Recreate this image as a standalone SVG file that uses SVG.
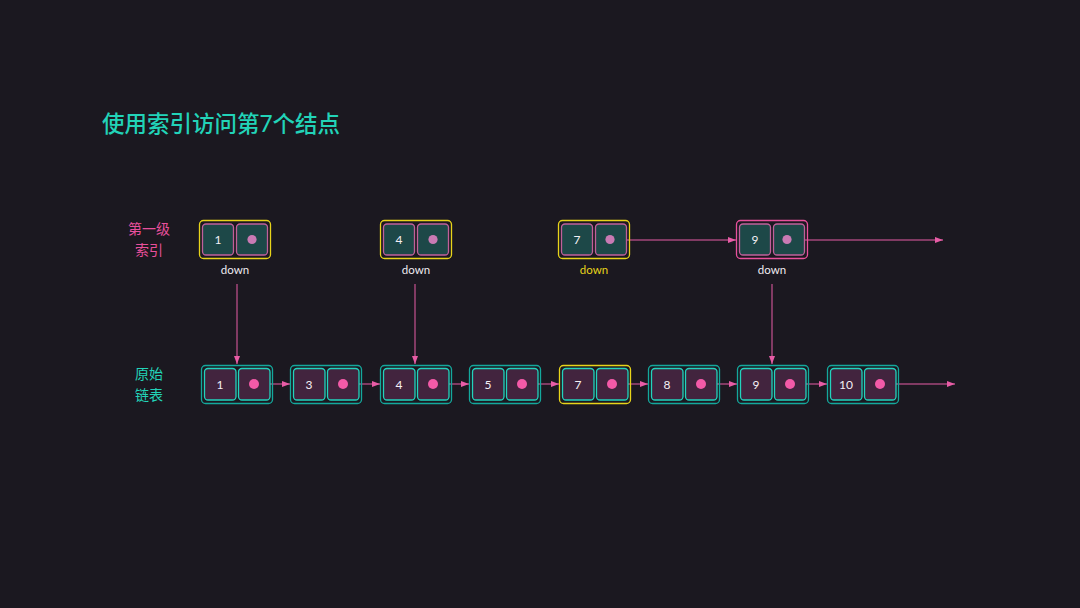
<svg xmlns="http://www.w3.org/2000/svg" width="1080" height="608" viewBox="0 0 1080 608">
<defs>
<marker id="ah" viewBox="0 0 8 6" refX="8" refY="3" markerWidth="8" markerHeight="6" markerUnits="userSpaceOnUse" orient="auto">
<path d="M0,0 L8,3 L0,6 Z" fill="#e85ca6"/>
</marker>
<style>
.t{font-family:"Lato","Noto Sans CJK SC",sans-serif;}
.num{font-size:12px;fill:#f4f0f4;text-anchor:middle;}
.dn{font-size:11.5px;fill:#f0ecf0;text-anchor:middle;}
.tc{fill:#1d4848;stroke:#c0609a;stroke-width:1.3;}
.bc{fill:#42243e;stroke:#22d3bd;stroke-width:1.3;}
.to{fill:none;stroke:#e8d41a;stroke-width:1.3;}
.tp{fill:none;stroke:#e8509c;stroke-width:1.3;}
.bo{fill:none;stroke:#14a89c;stroke-width:1.3;}
.td{fill:#c97ab4;}
.bd{fill:#f35aa8;}
.ln{stroke:#e85ca6;stroke-width:1;fill:none;marker-end:url(#ah);}
.lab{font-size:14px;text-anchor:middle;}
</style>
</defs>
<rect width="1080" height="608" fill="#1b1820"/>
<text class="t" x="102" y="132" font-size="22.5" font-weight="500" fill="#22d3b8">使用索引访问第7个结点</text>
<g id="label-level1" class="t lab" fill="#e8509c">
<text x="149" y="234">第一级</text>
<text x="149" y="255">索引</text>
</g>
<g id="label-orig" class="t lab" fill="#22d3b8">
<text x="149" y="379">原始</text>
<text x="149" y="400">链表</text>
</g>

<g id="connectors">
<line class="ln" x1="610" y1="240" x2="736" y2="240"/>
<line class="ln" x1="787" y1="240" x2="943" y2="240"/>
<line class="ln" x1="237" y1="284" x2="237" y2="364"/>
<line class="ln" x1="415" y1="284" x2="415" y2="364"/>
<line class="ln" x1="772" y1="284" x2="772" y2="364"/>
<line class="ln" x1="254" y1="384" x2="290" y2="384"/>
<line class="ln" x1="343" y1="384" x2="380" y2="384"/>
<line class="ln" x1="433" y1="384" x2="469" y2="384"/>
<line class="ln" x1="522" y1="384" x2="559" y2="384"/>
<line class="ln" x1="612" y1="384" x2="648" y2="384"/>
<line class="ln" x1="701" y1="384" x2="737" y2="384"/>
<line class="ln" x1="790" y1="384" x2="827" y2="384"/>
<line class="ln" x1="880" y1="384" x2="955" y2="384"/>
</g>

<g id="top1">
<rect class="to" x="199.5" y="220.5" width="71" height="38" rx="4"/>
<rect class="tc" x="202.5" y="224" width="31" height="31" rx="3.5"/>
<rect class="tc" x="236.5" y="224" width="31" height="31" rx="3.5"/>
<text class="t num" x="218" y="244">1</text>
<circle class="td" cx="252" cy="239.5" r="4.6"/>
<text class="t dn" x="235" y="274">down</text>
</g>
<g id="top4">
<rect class="to" x="380.5" y="220.5" width="71" height="38" rx="4"/>
<rect class="tc" x="383.5" y="224" width="31" height="31" rx="3.5"/>
<rect class="tc" x="417.5" y="224" width="31" height="31" rx="3.5"/>
<text class="t num" x="399" y="244">4</text>
<circle class="td" cx="433" cy="239.5" r="4.6"/>
<text class="t dn" x="416" y="274">down</text>
</g>
<g id="top7">
<rect class="to" x="558.5" y="220.5" width="71" height="38" rx="4"/>
<rect class="tc" x="561.5" y="224" width="31" height="31" rx="3.5"/>
<rect class="tc" x="595.5" y="224" width="31" height="31" rx="3.5"/>
<text class="t num" x="577" y="244">7</text>
<circle class="td" cx="610" cy="239.5" r="4.6"/>
<text class="t dn" x="594" y="274" style="fill:#e8d41a">down</text>
</g>
<g id="top9">
<rect class="tp" x="736.5" y="220.5" width="71" height="38" rx="4"/>
<rect class="tc" x="739.5" y="224" width="31" height="31" rx="3.5"/>
<rect class="tc" x="773.5" y="224" width="31" height="31" rx="3.5"/>
<text class="t num" x="755" y="244">9</text>
<circle class="td" cx="787" cy="239.5" r="4.6"/>
<text class="t dn" x="772" y="274">down</text>
</g>

<g id="n1">
<rect class="bo" x="201.5" y="365.5" width="71" height="38" rx="4"/>
<rect class="bc" x="204.5" y="368.5" width="31.5" height="31.5" rx="3.5"/>
<rect class="bc" x="238.5" y="368.5" width="31.5" height="31.5" rx="3.5"/>
<text class="t num" x="220" y="389">1</text>
<circle class="bd" cx="254" cy="384" r="5"/>
</g>
<g id="n3">
<rect class="bo" x="290.5" y="365.5" width="71" height="38" rx="4"/>
<rect class="bc" x="293.5" y="368.5" width="31.5" height="31.5" rx="3.5"/>
<rect class="bc" x="327.5" y="368.5" width="31.5" height="31.5" rx="3.5"/>
<text class="t num" x="309" y="389">3</text>
<circle class="bd" cx="343" cy="384" r="5"/>
</g>
<g id="n4">
<rect class="bo" x="380.5" y="365.5" width="71" height="38" rx="4"/>
<rect class="bc" x="383.5" y="368.5" width="31.5" height="31.5" rx="3.5"/>
<rect class="bc" x="417.5" y="368.5" width="31.5" height="31.5" rx="3.5"/>
<text class="t num" x="399" y="389">4</text>
<circle class="bd" cx="433" cy="384" r="5"/>
</g>
<g id="n5">
<rect class="bo" x="469.5" y="365.5" width="71" height="38" rx="4"/>
<rect class="bc" x="472.5" y="368.5" width="31.5" height="31.5" rx="3.5"/>
<rect class="bc" x="506.5" y="368.5" width="31.5" height="31.5" rx="3.5"/>
<text class="t num" x="488" y="389">5</text>
<circle class="bd" cx="522" cy="384" r="5"/>
</g>
<g id="n7">
<rect class="to" x="559.5" y="365.5" width="71" height="38" rx="4"/>
<rect class="bc" x="562.5" y="368.5" width="31.5" height="31.5" rx="3.5"/>
<rect class="bc" x="596.5" y="368.5" width="31.5" height="31.5" rx="3.5"/>
<text class="t num" x="578" y="389">7</text>
<circle class="bd" cx="612" cy="384" r="5"/>
</g>
<g id="n8">
<rect class="bo" x="648.5" y="365.5" width="71" height="38" rx="4"/>
<rect class="bc" x="651.5" y="368.5" width="31.5" height="31.5" rx="3.5"/>
<rect class="bc" x="685.5" y="368.5" width="31.5" height="31.5" rx="3.5"/>
<text class="t num" x="667" y="389">8</text>
<circle class="bd" cx="701" cy="384" r="5"/>
</g>
<g id="n9">
<rect class="bo" x="737.5" y="365.5" width="71" height="38" rx="4"/>
<rect class="bc" x="740.5" y="368.5" width="31.5" height="31.5" rx="3.5"/>
<rect class="bc" x="774.5" y="368.5" width="31.5" height="31.5" rx="3.5"/>
<text class="t num" x="756" y="389">9</text>
<circle class="bd" cx="790" cy="384" r="5"/>
</g>
<g id="n10">
<rect class="bo" x="827.5" y="365.5" width="71" height="38" rx="4"/>
<rect class="bc" x="830.5" y="368.5" width="31.5" height="31.5" rx="3.5"/>
<rect class="bc" x="864.5" y="368.5" width="31.5" height="31.5" rx="3.5"/>
<text class="t num" x="846" y="389">10</text>
<circle class="bd" cx="880" cy="384" r="5"/>
</g>
</svg>
